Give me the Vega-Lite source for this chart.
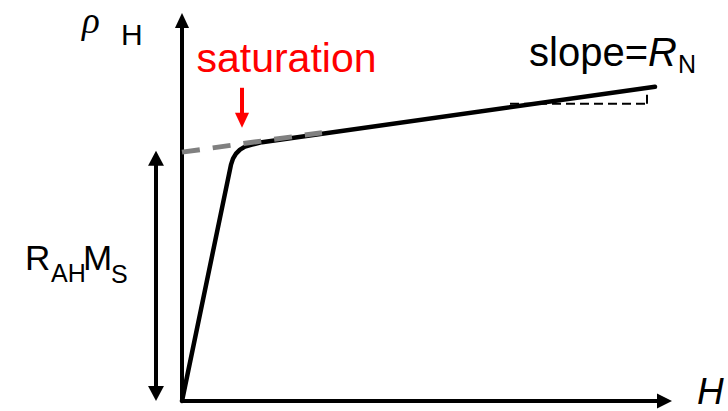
{
  "$schema": "https://vega.github.io/schema/vega-lite/v6.json",
  "width": 728,
  "height": 411,
  "padding": 0,
  "autosize": {"type": "fit", "contains": "padding"},
  "background": "white",
  "config": {"view": {"stroke": null}},
  "datasets": {
    "axes": [
      {"part": "rho axis", "H": 0, "rho": 0, "H2": 0, "rho2": 380},
      {"part": "H axis", "H": 0, "rho": 0, "H2": 478, "rho2": 0}
    ],
    "curve": [
      {"H": 0, "rho": 0},
      {"H": 49, "rho": 237},
      {"H": 51, "rho": 243},
      {"H": 54, "rho": 248},
      {"H": 58, "rho": 252},
      {"H": 63, "rho": 255},
      {"H": 70, "rho": 257},
      {"H": 80, "rho": 259.5},
      {"H": 473, "rho": 315}
    ],
    "extrapolation": [
      {"H": 0, "rho": 249.5},
      {"H": 140, "rho": 269}
    ],
    "slopeStep": [
      {"H": 328, "rho": 298, "H2": 465, "rho2": 298},
      {"H": 465, "rho": 298, "H2": 465, "rho2": 307}
    ],
    "span": [
      {"H": -26, "rho": 8, "H2": -26, "rho2": 243}
    ],
    "saturationArrow": [
      {"H": 60, "rho": 314, "H2": 60, "rho2": 284}
    ]
  },
  "encoding": {
    "x": {"field": "H", "type": "quantitative", "axis": null,
          "scale": {"domain": [-182, 546], "nice": false, "zero": false}},
    "y": {"field": "rho", "type": "quantitative", "axis": null,
          "scale": {"domain": [-9, 402], "nice": false, "zero": false}}
  },
  "layer": [
    {
      "data": {"name": "axes"},
      "mark": {"type": "rule", "color": "black", "strokeWidth": 4},
      "encoding": {"x2": {"field": "H2"}, "y2": {"field": "rho2"}}
    },
    {
      "data": {"values": [{"H": 0, "rho": 389}]},
      "mark": {"type": "point", "shape": "M0,0L-0.47,1L0.47,1Z", "size": 900,
               "filled": true, "color": "black", "opacity": 1, "strokeWidth": 0}
    },
    {
      "data": {"values": [{"H": 490, "rho": 0}]},
      "mark": {"type": "point", "shape": "M0,0L-1,-0.5L-1,0.5Z", "size": 900,
               "filled": true, "color": "black", "opacity": 1, "strokeWidth": 0}
    },
    {
      "data": {"name": "curve"},
      "mark": {"type": "line", "color": "black", "strokeWidth": 4.5,
               "strokeJoin": "round", "strokeCap": "round"}
    },
    {
      "data": {"name": "extrapolation"},
      "mark": {"type": "line", "color": "#808080", "strokeWidth": 5,
               "strokeDash": [18, 13]}
    },
    {
      "data": {"name": "slopeStep"},
      "mark": {"type": "rule", "color": "black", "strokeWidth": 2,
               "strokeDash": [9, 5]},
      "encoding": {"x2": {"field": "H2"}, "y2": {"field": "rho2"}}
    },
    {
      "data": {"name": "span"},
      "mark": {"type": "rule", "color": "black", "strokeWidth": 4},
      "encoding": {"x2": {"field": "H2"}, "y2": {"field": "rho2"}}
    },
    {
      "data": {"values": [{"H": -26, "rho": 251}]},
      "mark": {"type": "point", "shape": "M0,0L-0.53,1L0.53,1Z", "size": 900,
               "filled": true, "color": "black", "opacity": 1, "strokeWidth": 0}
    },
    {
      "data": {"values": [{"H": -26, "rho": 0}]},
      "mark": {"type": "point", "shape": "M0,0L-0.53,-1L0.53,-1Z", "size": 900,
               "filled": true, "color": "black", "opacity": 1, "strokeWidth": 0}
    },
    {
      "data": {"name": "saturationArrow"},
      "mark": {"type": "rule", "color": "#ff0000", "strokeWidth": 4},
      "encoding": {"x2": {"field": "H2"}, "y2": {"field": "rho2"}}
    },
    {
      "data": {"values": [{"H": 60, "rho": 274}]},
      "mark": {"type": "point", "shape": "M0,0L-0.47,-1L0.47,-1Z", "size": 900,
               "filled": true, "color": "#ff0000", "opacity": 1, "strokeWidth": 0}
    },
    {
      "data": {"values": [{"label": "saturation", "H": 104.5, "rho": 330}]},
      "mark": {"type": "text", "font": "Liberation Sans", "fontSize": 41,
               "color": "#ff0000", "align": "center", "baseline": "alphabetic"},
      "encoding": {"text": {"field": "label"}}
    },
    {
      "data": {"values": [{"label": "slope=", "H": 347, "rho": 336}]},
      "mark": {"type": "text", "font": "Liberation Sans", "fontSize": 40,
               "color": "black", "align": "left", "baseline": "alphabetic"},
      "encoding": {"text": {"field": "label"}}
    },
    {
      "data": {"values": [
        {"label": "R", "H": -157, "rho": 131},
        {"label": "M", "H": -99, "rho": 131}
      ]},
      "mark": {"type": "text", "font": "Liberation Sans", "fontSize": 35,
               "color": "black", "align": "left", "baseline": "alphabetic"},
      "encoding": {"text": {"field": "label"}}
    },
    {
      "data": {"values": [{"label": "R", "H": 466, "rho": 336}]},
      "mark": {"type": "text", "font": "Liberation Sans", "fontSize": 40,
               "fontStyle": "italic", "color": "black", "align": "left",
               "baseline": "alphabetic"},
      "encoding": {"text": {"field": "label"}}
    },
    {
      "data": {"values": [{"label": "H", "H": 515, "rho": -3}]},
      "mark": {"type": "text", "font": "Liberation Sans", "fontSize": 37,
               "fontStyle": "italic", "color": "black", "align": "left",
               "baseline": "alphabetic"},
      "encoding": {"text": {"field": "label"}}
    },
    {
      "data": {"values": [
        {"label": "N", "H": 496, "rho": 329},
        {"label": "AH", "H": -131, "rho": 119},
        {"label": "S", "H": -71, "rho": 118}
      ]},
      "mark": {"type": "text", "font": "Liberation Sans", "fontSize": 25,
               "color": "black", "align": "left", "baseline": "alphabetic"},
      "encoding": {"text": {"field": "label"}}
    },
    {
      "data": {"values": [{"label": "H", "H": -61, "rho": 357}]},
      "mark": {"type": "text", "font": "Liberation Sans", "fontSize": 30,
               "color": "black", "align": "left", "baseline": "alphabetic"},
      "encoding": {"text": {"field": "label"}}
    },
    {
      "data": {"values": [{"label": "ρ", "H": -100, "rho": 369}]},
      "mark": {"type": "text", "font": "Liberation Serif", "fontSize": 37,
               "fontStyle": "italic", "color": "black", "align": "left",
               "baseline": "alphabetic"},
      "encoding": {"text": {"field": "label"}}
    }
  ]
}
